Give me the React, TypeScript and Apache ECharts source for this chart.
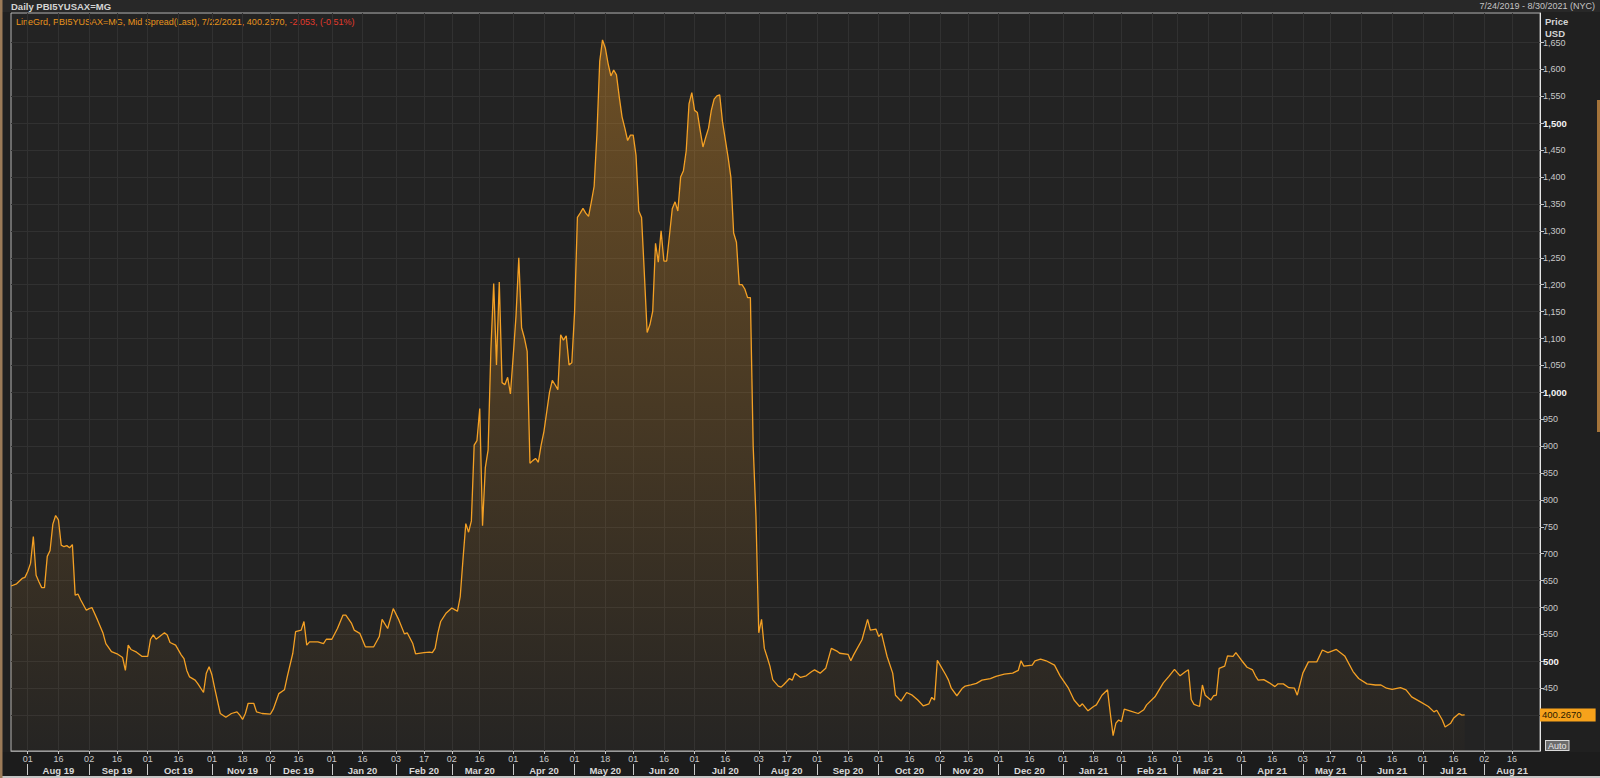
import React, { useEffect, useRef } from "react";
import * as echarts from "echarts";

// ---------- data ----------
const AXIS_START = "2019-07-24";
const AXIS_END = "2021-08-30";

// trading-day number (weekdays counted from 2019-07-24) of each point
const dayNo = [
  0, 2, 4, 5, 6, 7, 8, 9, 10, 11, 12, 13, 14, 15, 16, 17, 18, 19, 20, 21, 22, 23, 24, 25, 27, 28, 29, 31, 33, 34, 36, 38,
  40, 41, 42, 43, 45, 47, 49, 50, 51, 52, 55, 56, 57, 59, 61, 62, 63, 64, 66, 67, 69, 70, 71, 72, 73, 75, 77, 79, 81, 82,
  83, 84, 85, 87, 88, 90, 93, 94, 96, 98, 99, 101, 102, 104, 105, 106, 107, 110, 112, 113, 115, 117, 119, 120, 122, 123,
  125, 127, 130, 132, 133, 135, 137, 139, 141, 142, 144, 145, 148, 150, 151, 152, 153, 154, 156, 158, 159, 160, 161, 162,
  163, 164, 165, 166, 167, 168, 169, 170, 171, 172, 173, 174, 175, 176, 177, 178, 179, 180, 181, 182, 183, 184, 185, 186,
  187, 188, 189, 190, 191, 193, 194, 195, 196, 197, 198, 199, 200, 201, 202, 203, 204, 205, 206, 207, 208, 209, 210, 211,
  212, 213, 214, 215, 216, 217, 218, 219, 220, 221, 222, 223, 224, 225, 226, 227, 228, 229, 230, 231, 232, 233, 234, 235,
  236, 237, 238, 239, 240, 241, 242, 243, 244, 245, 246, 247, 248, 249, 250, 251, 252, 253, 254, 255, 256, 257, 258, 259,
  260, 261, 262, 263, 264, 265, 266, 267, 268, 269, 270, 271, 272, 273, 274, 275, 276, 277, 279, 280, 281, 283, 285, 287,
  288, 290, 292, 294, 296, 297, 300, 301, 302, 305, 307, 308, 310, 311, 312, 313, 314, 316, 317, 319, 321, 323, 325, 327,
  329, 330, 331, 332, 333, 335, 336, 337, 339, 341, 342, 344, 346, 348, 351, 353, 356, 359, 361, 362, 363, 366, 367, 369,
  371, 374, 376, 379, 381, 383, 384, 386, 388, 389, 391, 393, 394, 395, 396, 397, 398, 399, 401, 404, 406, 407, 410, 413,
  415, 417, 419, 421, 422, 423, 424, 426, 427, 428, 430, 431, 432, 433, 435, 436, 438, 439, 441, 443, 445, 446, 447, 449,
  451, 453, 454, 456, 458, 460, 461, 463, 465, 468, 470, 472, 475, 478, 481, 483, 486, 489, 491, 493, 495, 498, 500, 502,
  505, 508, 510, 511, 513, 514, 516, 517, 519, 520, 521,
];

// Mid spread (USD) at those days
const spread = [
  640, 644, 654, 656, 667, 682, 732, 660, 648, 637, 637, 695, 706, 755, 771, 763, 716, 713, 715, 711, 717, 623, 625, 614, 595, 598, 600, 577, 552, 533, 518, 514,
  507, 483, 530, 522, 517, 509, 509, 541, 549, 541, 553, 549, 535, 530, 512, 505, 483, 471, 465, 458, 442, 478, 490, 475, 450, 403, 396, 403, 406, 400,
  392, 403, 422, 422, 406, 403, 402, 411, 440, 447, 471, 515, 555, 558, 574, 530, 536, 536, 533, 541, 541, 561, 586, 586, 571, 558,
  552, 527, 527, 546, 578, 561, 598, 577, 551, 553, 533, 514, 516, 517, 516, 524, 553, 574, 590, 599, 596, 593, 620, 690,
  756, 740, 761, 902, 910, 970, 752, 860, 893, 1080, 1202, 1051, 1205, 1018, 1014, 1028, 997, 1068, 1142, 1250, 1120, 1101, 1076, 868,
  873, 877, 870, 902, 927, 1000, 1022, 1014, 1005, 1107, 1097, 1105, 1051, 1055, 1150, 1325, 1333, 1342, 1333, 1327, 1354, 1383, 1480, 1615,
  1655, 1640, 1611, 1588, 1599, 1590, 1549, 1512, 1491, 1468, 1478, 1478, 1441, 1337, 1325, 1220, 1111, 1126, 1151, 1277, 1242, 1300, 1244, 1244,
  1292, 1341, 1354, 1337, 1400, 1412, 1449, 1536, 1557, 1524, 1520, 1487, 1456, 1474, 1491, 1524, 1545, 1551, 1553, 1503, 1470, 1437, 1400, 1296,
  1279, 1200, 1200, 1192, 1176, 1176, 900, 769, 553, 578, 524, 508, 491, 466, 460, 454, 452, 457, 468, 465, 478, 470, 473, 481,
  484, 478, 487, 524, 519, 515, 513, 501, 512, 540, 578, 558, 560, 546, 552, 530, 509, 478, 437, 426, 442, 437, 428, 417,
  421, 433, 428, 502, 493, 475, 465, 450, 436, 450, 454, 456, 459, 465, 468, 472, 476, 478, 483, 501, 491, 493, 501, 504,
  501, 493, 473, 450, 428, 416, 421, 408, 416, 419, 437, 447, 403, 362, 385, 391, 388, 411, 408, 403, 410, 419, 434, 460,
  472, 485, 473, 481, 484, 429, 420, 416, 456, 437, 428, 436, 437, 487, 491, 510, 509, 516, 502, 489, 484, 473, 465, 466,
  460, 453, 458, 458, 451, 450, 437, 478, 499, 499, 521, 516, 522, 510, 481, 468, 458, 456, 456, 450, 448, 451, 447, 434,
  425, 416, 406, 409, 391, 378, 385, 394, 403, 400, 400.267,
];

const yTickValues = [400, 450, 500, 550, 600, 650, 700, 750, 800, 850, 900, 950, 1000, 1050, 1100, 1150, 1200, 1250, 1300, 1350, 1400, 1450, 1500, 1550, 1600, 1650];
const yLabelValues = [450, 500, 550, 600, 650, 700, 750, 800, 850, 900, 950, 1000, 1050, 1100, 1150, 1200, 1250, 1300, 1350, 1400, 1450, 1500, 1550, 1600, 1650];
const Y_MIN = 333.3;
const Y_MAX = 1705;

const MONTHS = ["Jan", "Feb", "Mar", "Apr", "May", "Jun", "Jul", "Aug", "Sep", "Oct", "Nov", "Dec"];
const TITLE = "Daily PBI5YUSAX=MG";
const RANGE_TEXT = "7/24/2019 - 8/30/2021 (NYC)";
const LEGEND_MAIN = "LineGrd, PBI5YUSAX=MG, Mid Spread(Last), 7/22/2021, 400.2670, ";
const LEGEND_CHANGE = "-2.053, (-0.51%)";
const LAST_LABEL = "400.2670";

// ---------- helpers ----------
function weekdays(start: string, end: string): string[] {
  const out: string[] = [];
  const d = new Date(start + "T00:00:00Z");
  const e = new Date(end + "T00:00:00Z");
  while (d <= e) {
    const wd = d.getUTCDay();
    if (wd !== 0 && wd !== 6) out.push(d.toISOString().slice(0, 10));
    d.setUTCDate(d.getUTCDate() + 1);
  }
  return out;
}

const cats = weekdays(AXIS_START, AXIS_END);
const dayOf = (s: string) => +s.slice(8, 10);
const monOf = (s: string) => s.slice(0, 7);

const isMonthStart = (i: number) => i > 0 && monOf(cats[i]) !== monOf(cats[i - 1]);
const isMid = (i: number) =>
  i > 0 && monOf(cats[i]) === monOf(cats[i - 1]) && dayOf(cats[i]) >= 16 && dayOf(cats[i - 1]) < 16;
const isDayTick = (i: number) => isMonthStart(i) || isMid(i);

const FONT = '"Liberation Sans", Arial, sans-serif';

export default function App() {
  const ref = useRef<HTMLDivElement>(null);

  useEffect(() => {
    if (!ref.current) return;
    const chart = echarts.init(ref.current, undefined, { renderer: "svg" });
    const seriesData = dayNo.map((d, k) => [cats[d], spread[k]]);
    const lastValue = spread[spread.length - 1];

    const option: any = {
      animation: false,
      backgroundColor: "#202020",
      textStyle: { fontFamily: FONT },
      grid: {
        left: 11,
        right: 60,
        top: 13,
        bottom: 27,
        show: true,
        backgroundColor: "#232323",
        borderColor: "#b5b5b5",
        borderWidth: 1,
        containLabel: false,
        outerBoundsMode: "none",
      },
      xAxis: [
        {
          type: "category",
          data: cats,
          boundaryGap: false,
          position: "bottom",
          axisLine: { show: true, lineStyle: { color: "#9a9a9a", width: 1 } },
          axisTick: { show: true, interval: (i: number) => isDayTick(i), length: 3, lineStyle: { color: "#c8c8c8" } },
          axisLabel: {
            interval: (i: number) => isDayTick(i),
            formatter: (v: string) => v.slice(8, 10),
            color: "#c8c8c8",
            fontSize: 9,
            fontFamily: FONT,
            margin: 3,
          },
          splitLine: { show: true, interval: (i: number) => isDayTick(i), lineStyle: { color: "#313131", width: 1 } },
        },
        {
          type: "category",
          data: cats,
          boundaryGap: false,
          position: "bottom",
          offset: 13,
          axisLine: { show: false },
          axisTick: { show: true, interval: (i: number) => isMonthStart(i), length: 11, lineStyle: { color: "#c8c8c8" } },
          axisLabel: {
            interval: (i: number) => isMid(i),
            formatter: (v: string) => MONTHS[+v.slice(5, 7) - 1] + " " + v.slice(2, 4),
            color: "#d8d8d8",
            fontSize: 9.5,
            fontWeight: "bold",
            fontFamily: FONT,
            margin: 1,
          },
          splitLine: { show: false },
        },
      ],
      yAxis: {
        type: "value",
        position: "right",
        min: Y_MIN,
        max: Y_MAX,
        axisLine: { show: true, lineStyle: { color: "#e6e6e6", width: 1 } },
        axisTick: { show: true, length: 4, customValues: yTickValues, lineStyle: { color: "#c8c8c8" } },
        axisLabel: {
          customValues: yLabelValues,
          margin: 3,
          color: "#c8c8c8",
          fontSize: 9,
          fontFamily: FONT,
          formatter: (v: number) => {
            const s = v.toLocaleString("en-US");
            return v % 500 === 0 ? "{b|" + s + "}" : s;
          },
          rich: { b: { fontWeight: "bold", color: "#f2f2f2", fontSize: 9.5, fontFamily: FONT } },
        },
        splitLine: { show: true, lineStyle: { color: "#313131", width: 1 } },
      },
      series: [
        {
          type: "line",
          xAxisIndex: 0,
          data: seriesData,
          showSymbol: false,
          symbol: "none",
          lineStyle: { color: "#f4a024", width: 1.3 },
          itemStyle: { color: "#f4a024" },
          areaStyle: {
            color: new echarts.graphic.LinearGradient(
              0, 13, 0, 751,
              [
                { offset: 0, color: "rgba(222,146,40,0.58)" },
                { offset: 1, color: "rgba(222,146,40,0.02)" },
              ],
              true
            ),
          },
          markLine: {
            silent: true,
            symbol: ["none", "none"],
            lineStyle: { color: "rgba(0,0,0,0)", width: 0 },
            label: {
              show: true,
              position: "end",
              distance: 0,
              formatter: LAST_LABEL,
              backgroundColor: "#f7a21b",
              color: "#2a1a00",
              fontSize: 9.5,
              fontFamily: FONT,
              padding: [2, 14, 1, 2],
            },
            data: [{ yAxis: lastValue }],
          },
        },
      ],
      graphic: [
        { type: "rect", z: -1, shape: { x: 0, y: 0, width: 1600, height: 12 }, style: { fill: "#282828" } },
        { type: "rect", z: -1, shape: { x: 0, y: 752, width: 1600, height: 24 }, style: { fill: "#1c1c1c" } },
        { type: "rect", z: 10, shape: { x: 0, y: 776, width: 1600, height: 2 }, style: { fill: "#c4c4c4" } },
        { type: "rect", z: 10, shape: { x: 0, y: 0, width: 2.5, height: 778 }, style: { fill: "#9c7b58" } },
        { type: "rect", z: 10, shape: { x: 1597, y: 100, width: 3, height: 332 }, style: { fill: "#a5743a" } },
        {
          type: "text",
          x: 11,
          y: 6,
          style: { text: TITLE, fill: "#d4d4d4", font: "bold 9.5px " + FONT, verticalAlign: "middle" },
        },
        {
          type: "text",
          x: 1595,
          y: 6,
          style: { text: RANGE_TEXT, fill: "#c4c4c4", font: "9px " + FONT, align: "right", verticalAlign: "middle" },
        },
        {
          type: "text",
          x: 16,
          y: 22,
          style: {
            text: "{a|" + LEGEND_MAIN + "}{r|" + LEGEND_CHANGE + "}",
            verticalAlign: "middle",
            rich: {
              a: { fill: "#e8941c", fontSize: 9, fontFamily: FONT },
              r: { fill: "#e23a2c", fontSize: 9, fontFamily: FONT },
            },
          },
        },
        { type: "text", x: 1545, y: 21, style: { text: "Price", fill: "#d4d4d4", font: "bold 9.5px " + FONT, verticalAlign: "middle" } },
        { type: "text", x: 1545, y: 33, style: { text: "USD", fill: "#d4d4d4", font: "bold 9.5px " + FONT, verticalAlign: "middle" } },
        {
          type: "text",
          x: 1546,
          y: 741,
          style: {
            text: "Auto",
            fill: "#e8e8e8",
            font: "9px " + FONT,
            backgroundColor: "#6b6b6b",
            borderColor: "#d8d8d8",
            borderWidth: 1,
            padding: [0, 2, 0, 2],
          },
        },
      ],
    };

    chart.setOption(option);
    return () => chart.dispose();
  }, []);

  return (
    <div
      ref={ref}
      style={{ position: "fixed", left: 0, top: 0, width: 1600, height: 778, background: "#202020" }}
    />
  );
}
